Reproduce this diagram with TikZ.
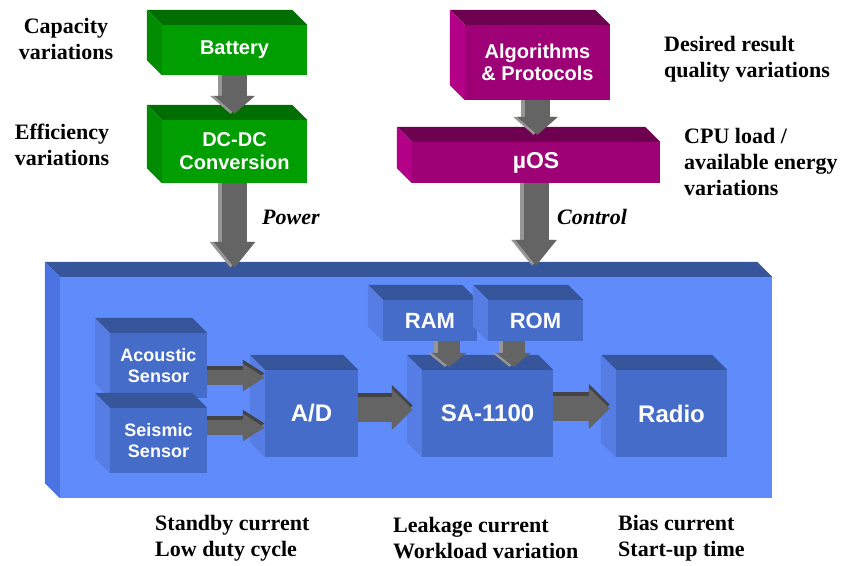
\documentclass[tikz,border=0pt]{standalone}
\usepackage{fontspec}
\setmainfont{Liberation Serif}
\setsansfont{Liberation Sans}
\usetikzlibrary{arrows.meta}

\definecolor{grnfront}{RGB}{0,158,0}
\definecolor{grntop}{RGB}{0,110,0}
\definecolor{grnside}{RGB}{0,140,0}
\definecolor{magfront}{RGB}{158,0,118}
\definecolor{magtop}{RGB}{110,0,80}
\definecolor{magside}{RGB}{180,0,135}
\definecolor{bluefront}{RGB}{95,140,250}
\definecolor{bluetop}{RGB}{55,85,155}
\definecolor{blueside}{RGB}{75,115,225}
\definecolor{chipfront}{RGB}{68,108,200}
\definecolor{chiptop}{RGB}{55,85,155}
\definecolor{chipside}{RGB}{85,125,228}
\definecolor{arrgray}{RGB}{100,100,100}
\definecolor{arrlight}{RGB}{150,150,150}
\definecolor{arrdark}{RGB}{68,68,68}

% top and left faces of a block: node, top colour, side colour
\newcommand{\sides}[3]{%
  \fill[#2] (#1.north west) -- ++(-15,-15) -- ([shift={(-15,-15)}]#1.north east) -- (#1.north east) -- cycle;
  \fill[#3] (#1.north west) -- ++(-15,-15) -- ([shift={(-15,-15)}]#1.south west) -- (#1.south west) -- cycle;
}
% grey 3d arrow: shade style, pipe style, from, to
\newcommand{\fatarrow}[4]{%
  \draw[#2,#1] (#3) -- (#4);
  \draw[#2] (#3) -- (#4);
}

\tikzset{
  pipe/.style={line width=25pt, draw=arrgray, -{Triangle[width=40pt,length=#1]}},
  pipe/.default=18pt,
  thinpipe/.style={line width=15pt, draw=arrgray, -{Triangle[width=26pt,length=22pt]}},
  mempipe/.style={line width=22pt, draw=arrgray, -{Triangle[width=34pt,length=14pt]}},
  vshade/.style={transform canvas={xshift=-4pt}, draw=arrlight},
  hshade/.style={transform canvas={yshift=4pt}, draw=arrdark},
}

\begin{document}
\begin{tikzpicture}[x=1pt,y=-1pt,
  cube/.style 2 args={inner sep=0pt, align=center, text=white, font=\sffamily\bfseries\fontsize{#1}{#2}\selectfont},
  lbl/.style={inner sep=0pt, font=\fontsize{22}{26}\selectfont\bfseries}]
\useasboundingbox (0,0) rectangle (843,565);

% sensor board
\node[cube={20}{23}, fill=bluefront, minimum width=712pt, minimum height=221pt] (board) at (416,387.5) {};
\sides{board}{bluetop}{blueside}

% power side
\node[cube={20}{23}, fill=grnfront, minimum width=145pt, minimum height=50pt] (bat) at (234.5,50) {Battery};
\sides{bat}{grntop}{grnside}
\node[cube={20}{23}, fill=grnfront, minimum width=145pt, minimum height=63pt] (dcdc) at (234.5,151.5) {DC-DC\\Conversion};
\sides{dcdc}{grntop}{grnside}

% control side
\node[cube={20}{22}, fill=magfront, minimum width=145pt, minimum height=75pt] (algo) at (537.5,62.5) {Algorithms\\\& Protocols};
\sides{algo}{magtop}{magside}
\node[cube={23}{26}, fill=magfront, minimum width=248pt, minimum height=41pt] (uos) at (536,162.5) {µOS};
\sides{uos}{magtop}{magside}

% blocks on the board
\node[cube={18}{21}, fill=chipfront, minimum width=97pt, minimum height=65pt] (acou) at (158.5,365.5) {Acoustic\\Sensor};
\sides{acou}{chiptop}{chipside}
\node[cube={18}{21}, fill=chipfront, minimum width=97pt, minimum height=65pt] (seis) at (158.5,440.5) {Seismic\\Sensor};
\sides{seis}{chiptop}{chipside}
\node[cube={24}{27}, fill=chipfront, minimum width=93pt, minimum height=87pt] (ad) at (311.5,413.5) {A/D};
\sides{ad}{chiptop}{chipside}
\node[cube={22}{25}, fill=chipfront, minimum width=94pt, minimum height=41pt] (ram) at (430,320.5) {RAM};
\sides{ram}{chiptop}{chipside}
\node[cube={22}{25}, fill=chipfront, minimum width=95pt, minimum height=41pt] (rom) at (535.5,320.5) {ROM};
\sides{rom}{chiptop}{chipside}
\node[cube={24}{27}, fill=chipfront, minimum width=131pt, minimum height=87pt] (sa) at (487.5,413.5) {SA-1100};
\sides{sa}{chiptop}{chipside}
\node[cube={24}{27}, fill=chipfront, minimum width=111pt, minimum height=87pt] (radio) at (671.5,413.5) {Radio};
\sides{radio}{chiptop}{chipside}

% arrow ends
\coordinate (pwr) at (dcdc.south |- board.north);
\coordinate (ctl0) at (algo.south |- uos.north);
\coordinate (ctl) at (uos.south |- board.north);
\coordinate (a1) at ([yshift=-12pt]acou.east);
\coordinate (a2) at ([yshift=13pt]seis.east);
\coordinate (b1) at ([yshift=4pt]ad.east);
\coordinate (b2) at ([xshift=-9pt]sa.west);
\coordinate (c1) at ([yshift=5pt]sa.east);
\coordinate (c2) at ([xshift=-6pt]radio.west);
\coordinate (r1) at ([xshift=19pt]ram.south);
\coordinate (r2) at ([xshift=-22pt]rom.south);
\coordinate (s1) at ([yshift=3pt]sa.north);

% arrows
\fatarrow{vshade}{pipe}{bat.south}{[yshift=6pt]dcdc.north}
\fatarrow{vshade}{pipe=26pt}{dcdc.south}{[yshift=9pt]pwr}
\fatarrow{vshade}{pipe}{algo.south}{[yshift=7pt]ctl0}
\fatarrow{vshade}{pipe=26pt}{uos.south}{[yshift=11pt]ctl}
\fatarrow{hshade}{thinpipe}{a1}{a1 -| ad.west}
\fatarrow{hshade}{thinpipe}{a2}{a2 -| ad.west}
\fatarrow{hshade}{pipe=21pt}{b1}{b1 -| b2}
\fatarrow{hshade}{pipe=21pt}{c1}{c1 -| c2}
\fatarrow{vshade}{mempipe}{r1}{r1 |- s1}
\fatarrow{vshade}{mempipe}{r2}{r2 |- s1}

% labels
\node[lbl, align=center] (cap) at (66,39) {Capacity\\variations};
\node[lbl, align=center] (eff) at (62,145) {Efficiency\\variations};
\node[lbl, align=left, anchor=west] (des) at (664,59) {Desired result\\quality variations};
\node[lbl, align=left, anchor=west] (cpu) at (684,162) {CPU load /\\available energy\\variations};
\node[lbl, anchor=west, font=\fontsize{22}{26}\selectfont\bfseries\itshape] (power) at (262,217) {Power};
\node[lbl, anchor=west, font=\fontsize{22}{26}\selectfont\bfseries\itshape] (control) at (557,217) {Control};
\node[lbl, align=left, anchor=west] (stby) at (155,538) {Standby current\\Low duty cycle};
\node[lbl, align=left, anchor=west] (leak) at (393,538) {Leakage current\\Workload variation};
\node[lbl, align=left, anchor=west] (bias) at (618,538) {Bias current\\Start-up time};
\end{tikzpicture}
\end{document}
